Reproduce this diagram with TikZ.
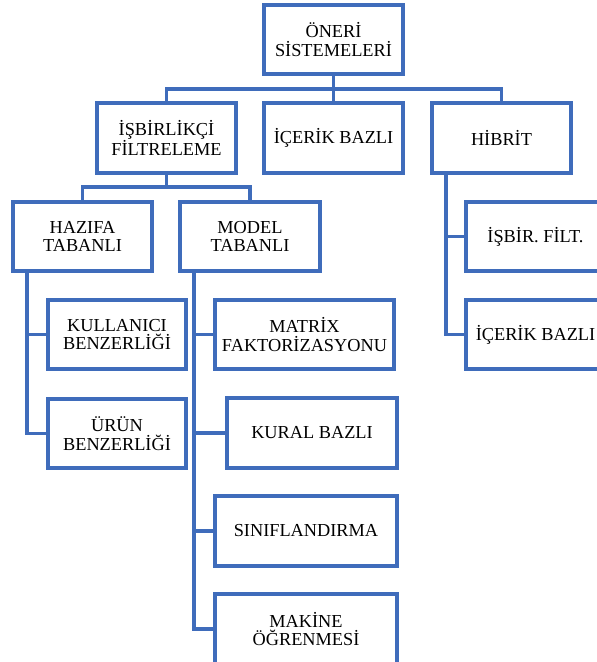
\documentclass[tikz,border=0pt]{standalone}
\usepackage{fontspec}
\setmainfont{Liberation Serif}
\definecolor{lineblue}{HTML}{3F6CBB}
\begin{document}
\begin{tikzpicture}[x=1pt,y=-1pt,
  box/.style={draw=lineblue, line width=3.1pt, fill=white, inner sep=0pt,
    outer sep=0pt, align=center, text=black,
    font=\fontsize{18.3}{18.5}\selectfont},
  conn/.style={draw=lineblue, line width=3.1pt, line join=miter}]
\useasboundingbox (0,0) rectangle (597,662);
\clip (0,0) rectangle (597,662);

% top level
\node[box, minimum width=139pt, minimum height=69pt] (oneri) at (333.5,39.5) {ÖNERİ\\SİSTEMELERİ};

% second level
\node[box, minimum width=139pt, minimum height=70pt] (isbir)  at (166.5,138) {İŞBİRLİKÇİ\\FİLTRELEME};
\node[box, minimum width=139pt, minimum height=70pt] (icerik) at (333.5,138) {İÇERİK BAZLI};
\node[box, minimum width=139pt, minimum height=70pt] (hibrit) at (501.5,138) {HİBRİT};

% collaborative filtering branches
\node[box, minimum width=139pt, minimum height=69pt] (hazifa) at (82.5,236.5) {HAZIFA\\TABANLI};
\node[box, minimum width=140pt, minimum height=69pt] (model)  at (250,236.5) {MODEL\\TABANLI};

\node[box, minimum width=138pt, minimum height=69pt] (kull) at (117,334.5) {KULLANICI\\BENZERLİĞİ};
\node[box, minimum width=138pt, minimum height=69pt] (urun) at (117,433.5) {ÜRÜN\\BENZERLİĞİ};

\node[box, minimum width=179pt, minimum height=69pt] (matrix) at (304.5,334.5) {MATRİX\\FAKTORİZASYONU};
\node[box, minimum width=170pt, minimum height=70pt] (kural)  at (312,433) {KURAL BAZLI};
\node[box, minimum width=182pt, minimum height=70pt] (sinif)  at (306,531) {SINIFLANDIRMA};
\node[box, minimum width=182pt, minimum height=70pt] (makine) at (306,629) {MAKİNE\\ÖĞRENMESİ};

% hybrid branches
\node[box, minimum width=139pt, minimum height=69pt] (hisbir) at (535.5,236.5) {İŞBİR. FİLT.};
\node[box, minimum width=139pt, minimum height=69pt] (hicer)  at (535.5,334.5) {İÇERİK BAZLI};

% connectors
\coordinate (j1) at (333.5,89);
\coordinate (j2) at (166.5,187);
\draw[conn] (oneri.south) -- (icerik.north);
\draw[conn] (isbir.north) |- (j1) -| (hibrit.north);
\draw[conn] (isbir.south) -- (j2);
\draw[conn] (hazifa.north) |- (j2) -| (model.north);

\draw[conn] ([xshift=14pt]hazifa.south west) |- (kull.west);
\draw[conn] ([xshift=14pt]hazifa.south west) |- (urun.west);

\draw[conn] ([xshift=14pt]model.south west) |- (matrix.west);
\draw[conn] ([xshift=14pt]model.south west) |- (kural.west);
\draw[conn] ([xshift=14pt]model.south west) |- (sinif.west);
\draw[conn] ([xshift=14pt]model.south west) |- (makine.west);

\draw[conn] ([xshift=14pt]hibrit.south west) |- (hisbir.west);
\draw[conn] ([xshift=14pt]hibrit.south west) |- (hicer.west);
\end{tikzpicture}
\end{document}
